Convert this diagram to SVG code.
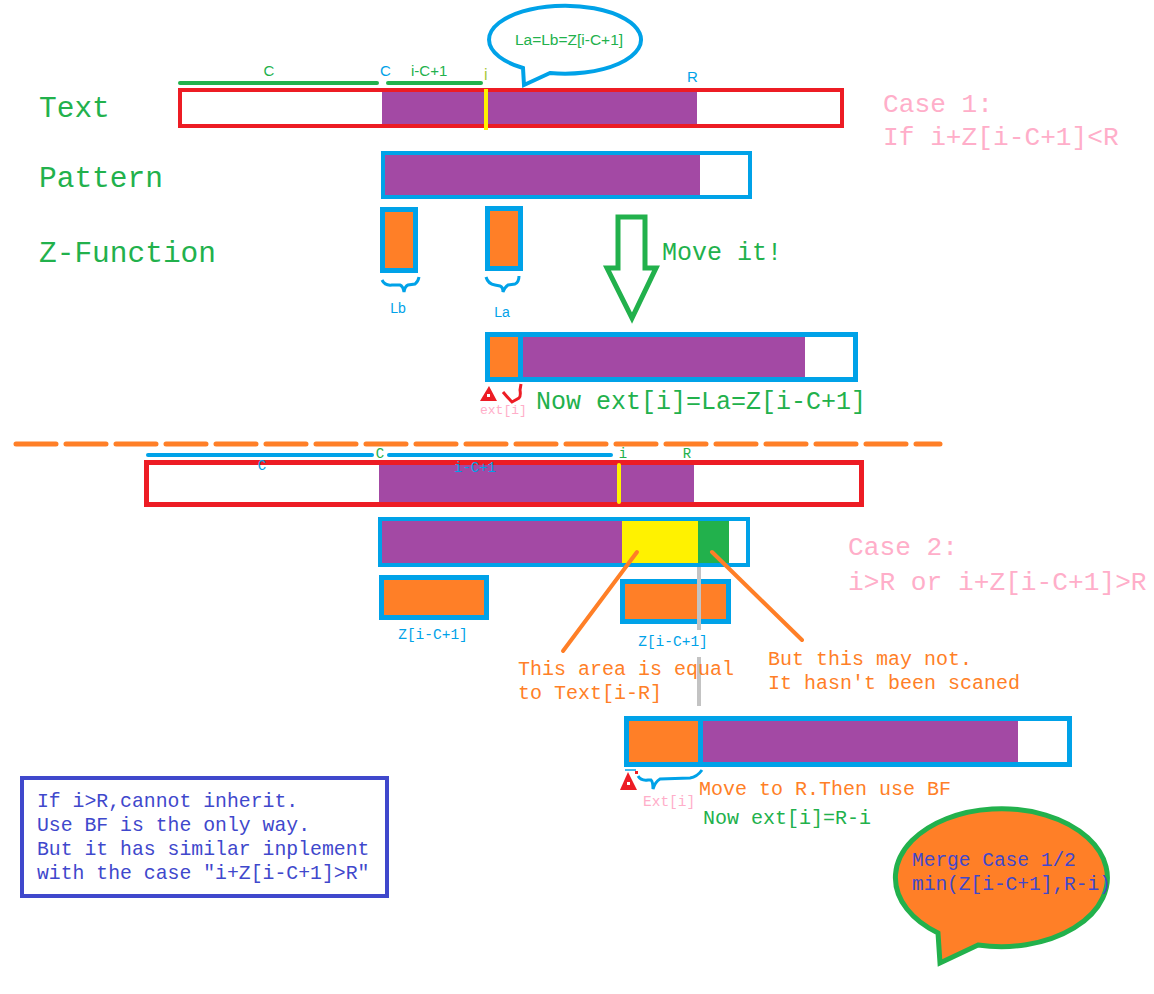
<svg xmlns="http://www.w3.org/2000/svg" width="1154" height="994" viewBox="0 0 1154 994">
<style>
.mono{font-family:"Liberation Mono","DejaVu Sans Mono",monospace}
.sans{font-family:"Liberation Sans",Arial,sans-serif}
.g{fill:#22b14c}.b{fill:#00a2e8}.o{fill:#ff7f27}.p{fill:#ffaec9}.v{fill:#3f48cc}
.red{fill:none;stroke:#ed1c24}
.blu{fill:none;stroke:#00a2e8}
.pur{fill:#a349a4}.or{fill:#ff7f27}.ye{fill:#fff200}.gr{fill:#22b14c}
</style>
<rect width="1154" height="994" fill="#fff"/>

<g id="labels-left" class="mono g" font-size="29.5">
<text x="39" y="117">Text</text>
<text x="39" y="187">Pattern</text>
<text x="39" y="262">Z-Function</text>
</g>

<g id="text-bar-1">
<line x1="180" y1="83" x2="377" y2="83" stroke="#22b14c" stroke-width="4" stroke-linecap="round"/>
<line x1="388" y1="83" x2="481" y2="83" stroke="#22b14c" stroke-width="4" stroke-linecap="round"/>
<text x="269" y="76" class="sans g" font-size="15" text-anchor="middle">C</text>
<text x="380" y="76" class="sans b" font-size="15">C</text>
<text x="411" y="76" class="sans g" font-size="15">i-C+1</text>
<text x="484" y="80" class="sans" font-size="16" fill="#a8c83a">i</text>
<text x="687" y="82" class="sans b" font-size="15">R</text>
<rect x="382" y="92" width="315" height="32" class="pur"/>
<rect x="180" y="90" width="662" height="36" class="red" stroke-width="4"/>
<line x1="486" y1="89" x2="486" y2="130" stroke="#fff200" stroke-width="4"/>
</g>

<g id="bubble-1">
<path d="M523,68 A76,34 0 1 1 550,73 L524,85 Z" fill="#fff" stroke="#00a2e8" stroke-width="4"/>
<text x="569" y="45" class="sans g" font-size="15.5" text-anchor="middle">La=Lb=Z[i-C+1]</text>
</g>

<g id="case1-label" class="mono p" font-size="26.2">
<text x="883" y="112">Case 1:</text>
<text x="883" y="145">If i+Z[i-C+1]&lt;R</text>
</g>

<g id="pattern-1">
<rect x="385" y="155" width="315" height="40" class="pur"/>
<rect x="383" y="153" width="367" height="44" class="blu" stroke-width="4"/>
</g>

<g id="z-lb">
<rect x="385" y="212" width="28" height="56" class="or"/>
<rect x="382.5" y="209.5" width="33" height="61" class="blu" stroke-width="5"/>
<path d="M382,280 Q385,286 392,285 L400,285 Q403,286 404,292 Q405,286 408,285 L415,284 Q418,282 419,277" fill="none" stroke="#00a2e8" stroke-width="3"/>
<text x="398" y="313" class="sans b" font-size="14" text-anchor="middle">Lb</text>
</g>

<g id="z-la">
<rect x="490" y="211" width="28" height="55" class="or"/>
<rect x="487.5" y="208.5" width="33" height="60" class="blu" stroke-width="5"/>
<path d="M486,277 Q488,284 495,285 L500,286 Q503,287 503,292 Q505,287 508,285 L515,284 Q519,282 519,276" fill="none" stroke="#00a2e8" stroke-width="3"/>
<text x="502" y="317" class="sans b" font-size="14" text-anchor="middle">La</text>
</g>

<g id="move-it">
<path d="M618,217 L645,217 L645,268 L656,268 L632,318 L607,268 L618,268 Z" fill="#fff" stroke="#22b14c" stroke-width="5" stroke-linejoin="miter"/>
<text x="662" y="260" class="mono g" font-size="25">Move it!</text>
</g>

<g id="result-1">
<rect x="490" y="337" width="29" height="41" class="or"/>
<rect x="522" y="337" width="283" height="41" class="pur"/>
<line x1="520.5" y1="334" x2="520.5" y2="380" stroke="#00a2e8" stroke-width="5"/>
<rect x="487.5" y="334.5" width="368" height="45" class="blu" stroke-width="5"/>
<polygon points="489,386 480,401 497,401" fill="#ed1c24"/>
<rect x="487" y="394" width="3" height="3" fill="#fff"/>
<path d="M503,392 Q508,398 512,402 L519,398 Q521,396 520,390 L521,384" fill="none" stroke="#ed1c24" stroke-width="3"/>
<text x="480" y="414" class="mono p" font-size="13">ext[i]</text>
<text x="536" y="409" class="mono g" font-size="25">Now ext[i]=La=Z[i-C+1]</text>
</g>

<g id="divider">
<line x1="16" y1="444" x2="940" y2="444" stroke="#ff7f27" stroke-width="5" stroke-dasharray="40 10" stroke-linecap="round"/>
</g>

<g id="text-bar-2">
<line x1="148" y1="455" x2="372" y2="455" stroke="#00a2e8" stroke-width="4" stroke-linecap="round"/>
<line x1="389" y1="455" x2="611" y2="455" stroke="#00a2e8" stroke-width="4" stroke-linecap="round"/>
<rect x="379" y="465" width="315" height="37" class="pur"/>
<rect x="146.5" y="462.5" width="715" height="42" class="red" stroke-width="5"/>
<line x1="619" y1="465" x2="619" y2="502" stroke="#fff200" stroke-width="4" stroke-linecap="round"/>
<text x="262" y="470" class="mono b" font-size="14" text-anchor="middle">C</text>
<text x="380" y="458" class="mono g" font-size="14" text-anchor="middle">C</text>
<text x="454" y="472" class="mono b" font-size="14">i-C+1</text>
<text x="623" y="458" class="mono g" font-size="14" text-anchor="middle">i</text>
<text x="687" y="458" class="mono g" font-size="14" text-anchor="middle">R</text>
</g>

<g id="case2-label" class="mono p" font-size="26.2">
<text x="848" y="555">Case 2:</text>
<text x="848" y="590">i&gt;R or i+Z[i-C+1]&gt;R</text>
</g>

<g id="pattern-2">
<rect x="382" y="521" width="240" height="42" class="pur"/>
<rect x="622" y="521" width="76" height="42" class="ye"/>
<rect x="698" y="521" width="31" height="42" class="gr"/>
<rect x="380" y="519" width="368" height="46" class="blu" stroke-width="4"/>
</g>

<g id="z-left-2">
<rect x="384" y="580" width="100" height="35" class="or"/>
<rect x="381.5" y="577.5" width="105" height="40" class="blu" stroke-width="5"/>
<text x="433" y="639" class="mono b" font-size="14.5" text-anchor="middle">Z[i-C+1]</text>
</g>

<g id="z-right-2">
<rect x="625" y="584" width="101" height="36" class="or"/>
<rect x="622.5" y="581.5" width="106" height="40" class="blu" stroke-width="5"/>
<text x="673" y="646" class="mono b" font-size="14.5" text-anchor="middle">Z[i-C+1]</text>
</g>

<g id="connectors">
<line x1="699" y1="567" x2="699" y2="630" stroke="#c3c3c3" stroke-width="4"/>
<line x1="699" y1="657" x2="699" y2="706" stroke="#c3c3c3" stroke-width="4"/>
<line x1="637" y1="552" x2="563" y2="651" stroke="#ff7f27" stroke-width="4" stroke-linecap="round"/>
<line x1="712" y1="552" x2="802" y2="640" stroke="#ff7f27" stroke-width="4" stroke-linecap="round"/>
</g>

<g id="note-equal" class="mono o" font-size="20">
<text x="518" y="675">This area is equal</text>
<text x="518" y="699">to Text[i-R]</text>
</g>

<g id="note-not" class="mono o" font-size="20">
<text x="768" y="665">But this may not.</text>
<text x="768" y="689">It hasn't been scaned</text>
</g>

<g id="result-2">
<rect x="629" y="721" width="69" height="41" class="or"/>
<rect x="703" y="721" width="315" height="41" class="pur"/>
<line x1="700.5" y1="718" x2="700.5" y2="765" stroke="#00a2e8" stroke-width="5"/>
<rect x="626.5" y="718.5" width="443" height="46" class="blu" stroke-width="5"/>
<line x1="625" y1="770" x2="636" y2="770" stroke="#00a2e8" stroke-width="1.5"/>
<polygon points="628,772 620,790 637,790" fill="#ed1c24"/>
<rect x="627" y="782" width="3" height="3" fill="#fff"/>
<rect x="635" y="771" width="3" height="3" fill="#ed1c24"/>
<path d="M638,776 Q641,781 648,780 L651,780 Q653,782 653,789 Q655,782 660,779 L690,778 Q697,777 702,770" fill="none" stroke="#00a2e8" stroke-width="3"/>
<text x="643" y="806" class="mono p" font-size="14.5">Ext[i]</text>
<text x="699" y="795" class="mono o" font-size="20">Move to R.Then use BF</text>
<text x="703" y="824" class="mono g" font-size="20">Now ext[i]=R-i</text>
</g>

<g id="note-box">
<rect x="22" y="778" width="365" height="118" fill="#fff" stroke="#3f48cc" stroke-width="4"/>
<g class="mono v" font-size="19.8">
<text x="37" y="807">If i&gt;R,cannot inherit.</text>
<text x="37" y="831">Use BF is the only way.</text>
<text x="37" y="855">But it has similar inplement</text>
<text x="37" y="879">with the case "i+Z[i-C+1]&gt;R"</text>
</g>
</g>

<g id="merge-bubble">
<path d="M938,933 A106,69 0 1 1 978,945 L940,963 Z" fill="#ff7f27" stroke="#22b14c" stroke-width="5"/>
<text x="912" y="866" class="mono v" font-size="19.5">Merge Case 1/2</text>
<text x="912" y="890" class="mono v" font-size="19.5">min(Z[i-C+1],R-i)</text>
</g>
</svg>
